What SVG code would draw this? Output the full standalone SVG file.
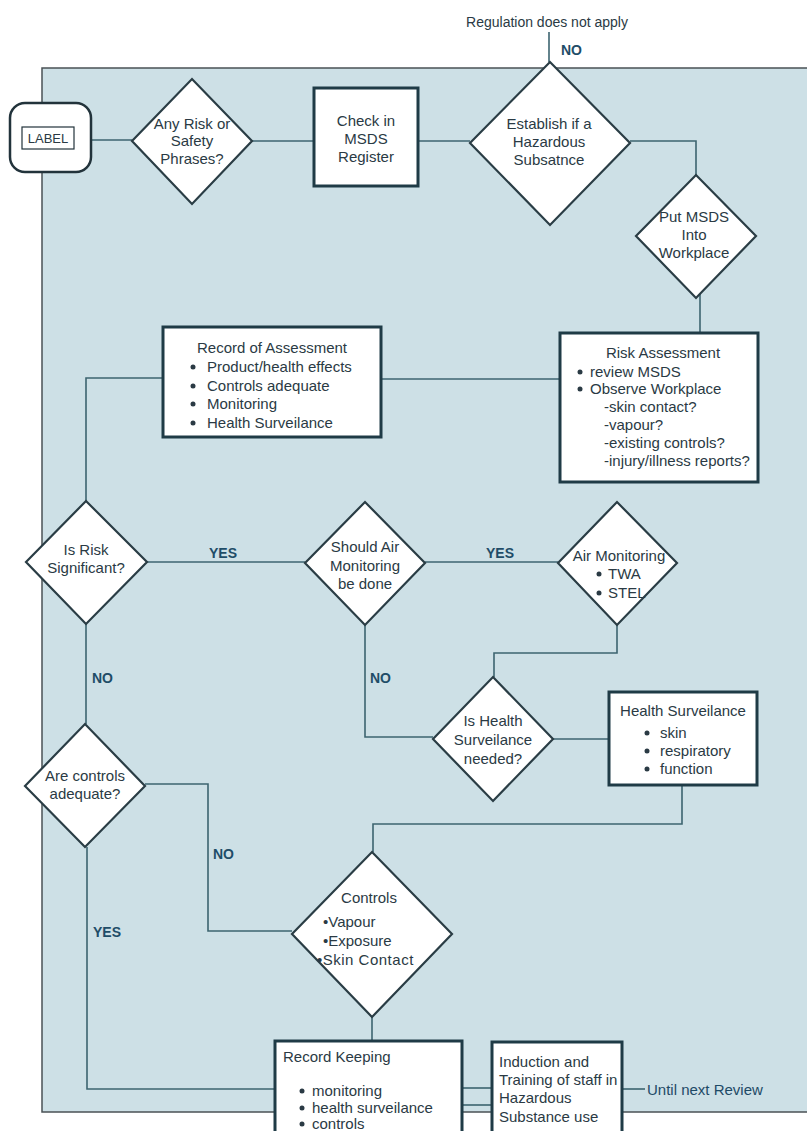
<svg xmlns="http://www.w3.org/2000/svg" width="807" height="1131" viewBox="0 0 807 1131">
  <style>
    .panel { fill: #cde0e6; stroke: #4a5255; stroke-width: 1.5; }
    .box { fill: #ffffff; stroke: #1f3b46; stroke-width: 3; }
    .dia { fill: #ffffff; stroke: #2a3d45; stroke-width: 2.2; }
    .wire { fill: none; stroke: #3d6470; stroke-width: 1.6; }
    text { font-family: "Liberation Sans", Arial, sans-serif; font-size: 15px; fill: #2a3a44; }
    .c { text-anchor: middle; }
    .lbl { font-weight: bold; font-size: 14px; fill: #1f4d68; }
    .dot { fill: #2a3a44; }
  </style>

  <rect width="807" height="1131" fill="#ffffff"/>
  <!-- shaded working area -->
  <rect class="panel" x="42" y="68" width="780" height="1044"/>

  <!-- connectors -->
  <g id="connectors">
    <line class="wire" x1="549" y1="32" x2="549" y2="62"/>
    <line class="wire" x1="91" y1="140" x2="132" y2="140"/>
    <line class="wire" x1="252" y1="141" x2="314" y2="141"/>
    <line class="wire" x1="418" y1="141" x2="470" y2="141"/>
    <polyline class="wire" points="630,141 696,141 696,175"/>
    <line class="wire" x1="700" y1="294" x2="700" y2="333"/>
    <line class="wire" x1="560" y1="379" x2="381" y2="379"/>
    <polyline class="wire" points="163,378 86,378 86,501"/>
    <line class="wire" x1="147" y1="562" x2="305" y2="562"/>
    <line class="wire" x1="425" y1="562" x2="558" y2="562"/>
    <polyline class="wire" points="617,625 617,653 494,653 494,677"/>
    <polyline class="wire" points="365,625 365,737 433,737"/>
    <line class="wire" x1="553" y1="739" x2="609" y2="739"/>
    <polyline class="wire" points="682,785 682,824 373,824 373,852"/>
    <line class="wire" x1="86" y1="624" x2="86" y2="724"/>
    <polyline class="wire" points="145,784 208,784 208,931 292,931"/>
    <polyline class="wire" points="87,847 87,1089 275,1089"/>
    <line class="wire" x1="372" y1="1017" x2="372" y2="1041"/>
    <line class="wire" x1="462" y1="1088" x2="492" y2="1088"/>
    <line class="wire" x1="462" y1="1105" x2="492" y2="1105"/>
    <line class="wire" x1="622" y1="1089" x2="645" y2="1089"/>

    <text x="547" y="27" class="c" style="font-size:14px">Regulation does not apply</text>
    <text x="561" y="55" class="lbl">NO</text>
    <text x="223" y="558" class="lbl c">YES</text>
    <text x="500" y="558" class="lbl c">YES</text>
    <text x="92" y="683" class="lbl">NO</text>
    <text x="370" y="683" class="lbl">NO</text>
    <text x="213" y="859" class="lbl">NO</text>
    <text x="93" y="937" class="lbl">YES</text>
    <text x="647" y="1095" style="fill:#1e4a66">Until next Review</text>
  </g>

  <g id="label">
    <rect x="10" y="103" width="81" height="69" rx="15" fill="#ffffff" stroke="#22333b" stroke-width="2.5"/>
    <rect x="22" y="127" width="52" height="22" fill="none" stroke="#22333b" stroke-width="1.2"/>
    <text x="48" y="143" class="c" style="font-size:13px">LABEL</text>
  </g>

  <g id="any-risk">
    <polygon class="dia" points="132,141 192,79 252,141 192,204"/>
    <text x="192" y="129" class="c">Any Risk or</text>
    <text x="192" y="146" class="c">Safety</text>
    <text x="192" y="164" class="c">Phrases?</text>
  </g>

  <g id="check-register">
    <rect class="box" x="314" y="88" width="104" height="98"/>
    <text x="366" y="126" class="c">Check in</text>
    <text x="366" y="144" class="c">MSDS</text>
    <text x="366" y="162" class="c">Register</text>
  </g>

  <g id="establish">
    <polygon class="dia" points="470,143 550,62 630,143 550,225"/>
    <text x="549" y="129" class="c">Establish if a</text>
    <text x="549" y="147" class="c">Hazardous</text>
    <text x="549" y="165" class="c">Subsatnce</text>
  </g>

  <g id="put-msds">
    <polygon class="dia" points="636,236 696,175 756,236 696,298"/>
    <text x="694" y="222" class="c">Put MSDS</text>
    <text x="694" y="240" class="c">Into</text>
    <text x="694" y="258" class="c">Workplace</text>
  </g>

  <g id="risk-assessment">
    <rect class="box" x="560" y="333" width="198" height="149"/>
    <text x="663" y="358" class="c">Risk Assessment</text>
    <circle class="dot" cx="580" cy="372" r="2.5"/>
    <text x="590" y="377">review MSDS</text>
    <circle class="dot" cx="580" cy="389" r="2.5"/>
    <text x="590" y="394">Observe Workplace</text>
    <text x="604" y="412">-skin contact?</text>
    <text x="604" y="430">-vapour?</text>
    <text x="604" y="448">-existing controls?</text>
    <text x="604" y="466">-injury/illness reports?</text>
  </g>

  <g id="record-assessment">
    <rect class="box" x="163" y="327" width="218" height="110"/>
    <text x="272" y="353" class="c">Record of Assessment</text>
    <circle class="dot" cx="193" cy="367" r="2.5"/>
    <text x="207" y="372">Product/health effects</text>
    <circle class="dot" cx="193" cy="386" r="2.5"/>
    <text x="207" y="391">Controls adequate</text>
    <circle class="dot" cx="193" cy="404" r="2.5"/>
    <text x="207" y="409">Monitoring</text>
    <circle class="dot" cx="193" cy="423" r="2.5"/>
    <text x="207" y="428">Health Surveilance</text>
  </g>

  <g id="risk-significant">
    <polygon class="dia" points="26,562 86,501 147,562 86,624"/>
    <text x="86" y="555" class="c">Is Risk</text>
    <text x="86" y="573" class="c">Significant?</text>
  </g>

  <g id="air-monitoring-q">
    <polygon class="dia" points="305,563 365,502 425,563 365,625"/>
    <text x="365" y="552" class="c">Should Air</text>
    <text x="365" y="571" class="c">Monitoring</text>
    <text x="365" y="589" class="c">be done</text>
  </g>

  <g id="air-monitoring">
    <polygon class="dia" points="558,563 617,502 677,563 617,625"/>
    <text x="619" y="561" class="c">Air Monitoring</text>
    <circle class="dot" cx="599" cy="574" r="2.5"/>
    <text x="608" y="579">TWA</text>
    <circle class="dot" cx="599" cy="593" r="2.5"/>
    <text x="608" y="598">STEL</text>
  </g>

  <g id="health-needed">
    <polygon class="dia" points="433,739 493,677 553,739 493,801"/>
    <text x="493" y="726" class="c">Is Health</text>
    <text x="493" y="745" class="c">Surveilance</text>
    <text x="493" y="764" class="c">needed?</text>
  </g>

  <g id="health-surveilance">
    <rect class="box" x="609" y="692" width="148" height="93"/>
    <text x="683" y="716" class="c">Health Surveilance</text>
    <circle class="dot" cx="647" cy="733" r="2.5"/>
    <text x="660" y="738">skin</text>
    <circle class="dot" cx="647" cy="751" r="2.5"/>
    <text x="660" y="756">respiratory</text>
    <circle class="dot" cx="647" cy="769" r="2.5"/>
    <text x="660" y="774">function</text>
  </g>

  <g id="controls-adequate">
    <polygon class="dia" points="25,786 85,724 145,786 85,847"/>
    <text x="85" y="781" class="c">Are controls</text>
    <text x="85" y="799" class="c">adequate?</text>
  </g>

  <g id="controls">
    <polygon class="dia" points="292,934 372,852 452,934 372,1017"/>
    <text x="369" y="903" class="c">Controls</text>
    <text x="323" y="927">•Vapour</text>
    <text x="323" y="946">•Exposure</text>
    <text x="317" y="965" style="letter-spacing:0.5px">•Skin Contact</text>
  </g>

  <g id="record-keeping">
    <rect class="box" x="275" y="1041" width="187" height="100"/>
    <text x="283" y="1062">Record Keeping</text>
    <circle class="dot" cx="302" cy="1091" r="2.5"/>
    <text x="312" y="1096">monitoring</text>
    <circle class="dot" cx="302" cy="1108" r="2.5"/>
    <text x="312" y="1113">health surveilance</text>
    <circle class="dot" cx="302" cy="1124" r="2.5"/>
    <text x="312" y="1129">controls</text>
  </g>

  <g id="induction">
    <rect class="box" x="492" y="1042" width="130" height="100"/>
    <text x="499" y="1067">Induction and</text>
    <text x="499" y="1085">Training of staff in</text>
    <text x="499" y="1103">Hazardous</text>
    <text x="499" y="1122">Substance use</text>
  </g>
</svg>
